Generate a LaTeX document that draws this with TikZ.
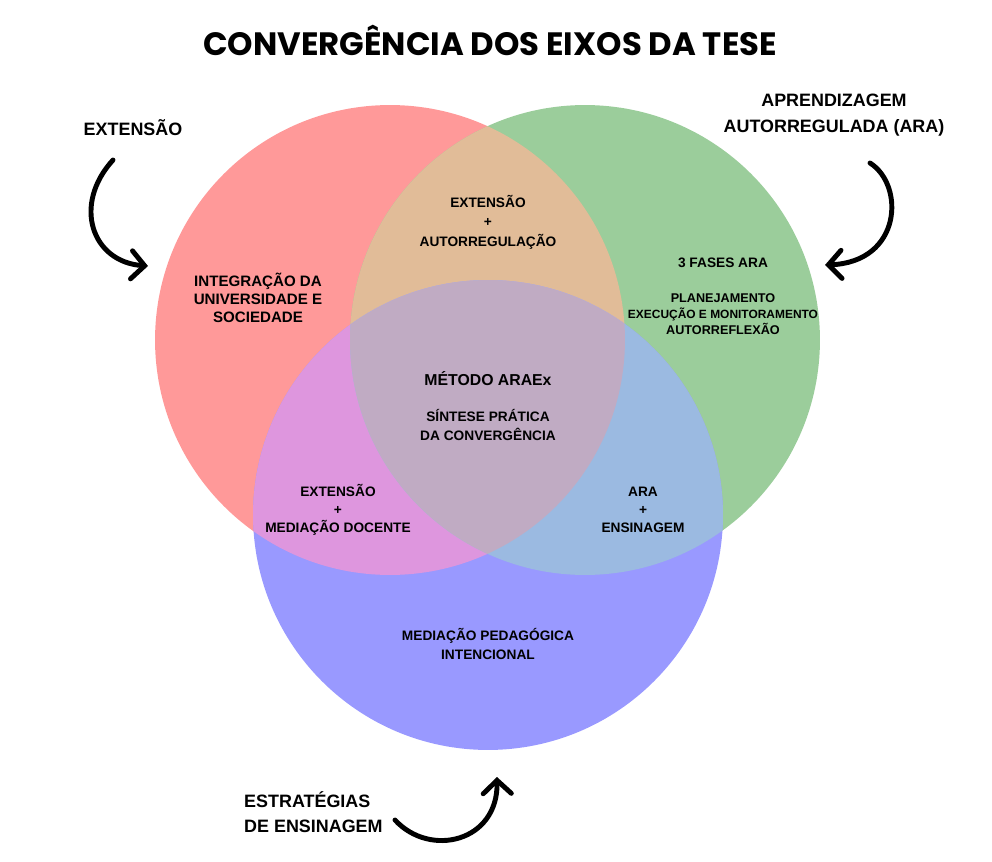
\documentclass[tikz,border=0pt]{standalone}
\usepackage{fontspec}
\setmainfont{Liberation Sans}
\newfontfamily\titlefont{Poppins}
\usepackage{xcolor}
\usepackage{tikz}
\usetikzlibrary{arrows.meta, positioning}

\definecolor{cVerm}{RGB}{255,153,153}
\definecolor{cVerde}{RGB}{155,205,155}
\definecolor{cAzul}{RGB}{153,153,255}
\definecolor{cVermVerde}{RGB}{225,188,152}
\definecolor{cVermAzul}{RGB}{222,150,222}
\definecolor{cVerdeAzul}{RGB}{155,186,225}
\definecolor{cCentro}{RGB}{192,171,195}

\tikzset{
  eixo/.style={font=\bfseries\fontsize{10.2}{14.5}\selectfont, align=center},
  rotulo/.style={font=\bfseries\fontsize{7.8}{11}\selectfont, align=center},
  seta/.style={line width=2.8pt, line cap=round,
    -{Straight Barb[length=7.5pt, width=16pt, line cap=round]}},
}

\begin{document}
\begin{tikzpicture}[x=0.02cm, y=-0.02cm]

    % =================================================================
    % 1. MOLDURA E CENTROS DOS CÍRCULOS
    % =================================================================
    \useasboundingbox (0,0) rectangle (992,862);
    \def\raio{4.7cm}
    \coordinate (R) at (390,340);   % extensão
    \coordinate (G) at (585,340);   % ARA
    \coordinate (B) at (488,515);   % ensinagem

    % =================================================================
    % 2. CÍRCULOS E INTERSEÇÕES
    % =================================================================
    \fill[cVerm] (R) circle[radius=\raio];
    \fill[cVerde] (G) circle[radius=\raio];
    \fill[cAzul] (B) circle[radius=\raio];

    \begin{scope}
        \clip (R) circle[radius=\raio];
        \fill[cVermVerde] (G) circle[radius=\raio];
        \fill[cVermAzul] (B) circle[radius=\raio];
    \end{scope}
    \begin{scope}
        \clip (G) circle[radius=\raio];
        \fill[cVerdeAzul] (B) circle[radius=\raio];
    \end{scope}
    \begin{scope}
        \clip (R) circle[radius=\raio];
        \clip (G) circle[radius=\raio];
        \fill[cCentro] (B) circle[radius=\raio];
    \end{scope}

    % =================================================================
    % 3. TÍTULO E EIXOS
    % =================================================================
    \node (titulo) at (490,40) {\titlefont\bfseries\fontsize{18.4}{22}\selectfont CONVERGÊNCIA DOS EIXOS DA TESE};

    \node[eixo] (extensao) at (133,128) {EXTENSÃO};
    \node[eixo] (ara) at (834,115) {APRENDIZAGEM\\AUTORREGULADA (ARA)};
    \node[eixo, align=left, anchor=west] (ensinagem) at (238,812) {ESTRATÉGIAS\\DE ENSINAGEM};

    % Setas
    \coordinate (s1a) at (113,160);
    \coordinate (s1b) at (148,266);
    \coordinate (s2a) at (870,163);
    \coordinate (s2b) at (825,265);
    \coordinate (s3a) at (395,820);
    \coordinate (s3b) at (497,777);

    \draw[seta] (s1a) .. controls (72,205) and (92,262) .. (s1b);
    \draw[seta] (s2a) .. controls (905,185) and (902,262) .. (s2b);
    \draw[seta] (s3a) .. controls (430,858) and (498,842) .. (s3b);

    % =================================================================
    % 4. TEXTOS DAS REGIÕES
    % =================================================================
    \node[rotulo, font=\bfseries\fontsize{8.6}{10.3}\selectfont] (integracao) at (258,298) {INTEGRAÇÃO DA\\UNIVERSIDADE E\\SOCIEDADE};
    \node[rotulo] (extAuto) at (488,222) {EXTENSÃO\\+\\AUTORREGULAÇÃO};

    \node[rotulo] (fases) at (723,263) {3 FASES ARA};
    \node[rotulo, font=\bfseries\fontsize{6.8}{9}\selectfont] (etapas) at (723,314) {{\fontsize{7.2}{9}\selectfont PLANEJAMENTO}\\EXECUÇÃO E MONITORAMENTO\\{\fontsize{7.2}{9}\selectfont AUTORREFLEXÃO}};

    \node[rotulo, font=\bfseries\fontsize{9}{11}\selectfont] (metodo) at (488,379) {MÉTODO ARAEx};
    \node[rotulo, font=\bfseries\fontsize{7.8}{10.8}\selectfont] (sintese) at (488,425) {SÍNTESE PRÁTICA\\DA CONVERGÊNCIA};

    \node[rotulo, font=\bfseries\fontsize{7.8}{10.2}\selectfont] (extMed) at (338,510) {EXTENSÃO\\+\\MEDIAÇÃO DOCENTE};
    \node[rotulo, font=\bfseries\fontsize{7.8}{10.2}\selectfont] (araEns) at (643,510) {ARA\\+\\ENSINAGEM};

    \node[rotulo, font=\bfseries\fontsize{7.8}{11.3}\selectfont] (mediacao) at (488,644) {MEDIAÇÃO PEDAGÓGICA\\INTENCIONAL};

\end{tikzpicture}
\end{document}
